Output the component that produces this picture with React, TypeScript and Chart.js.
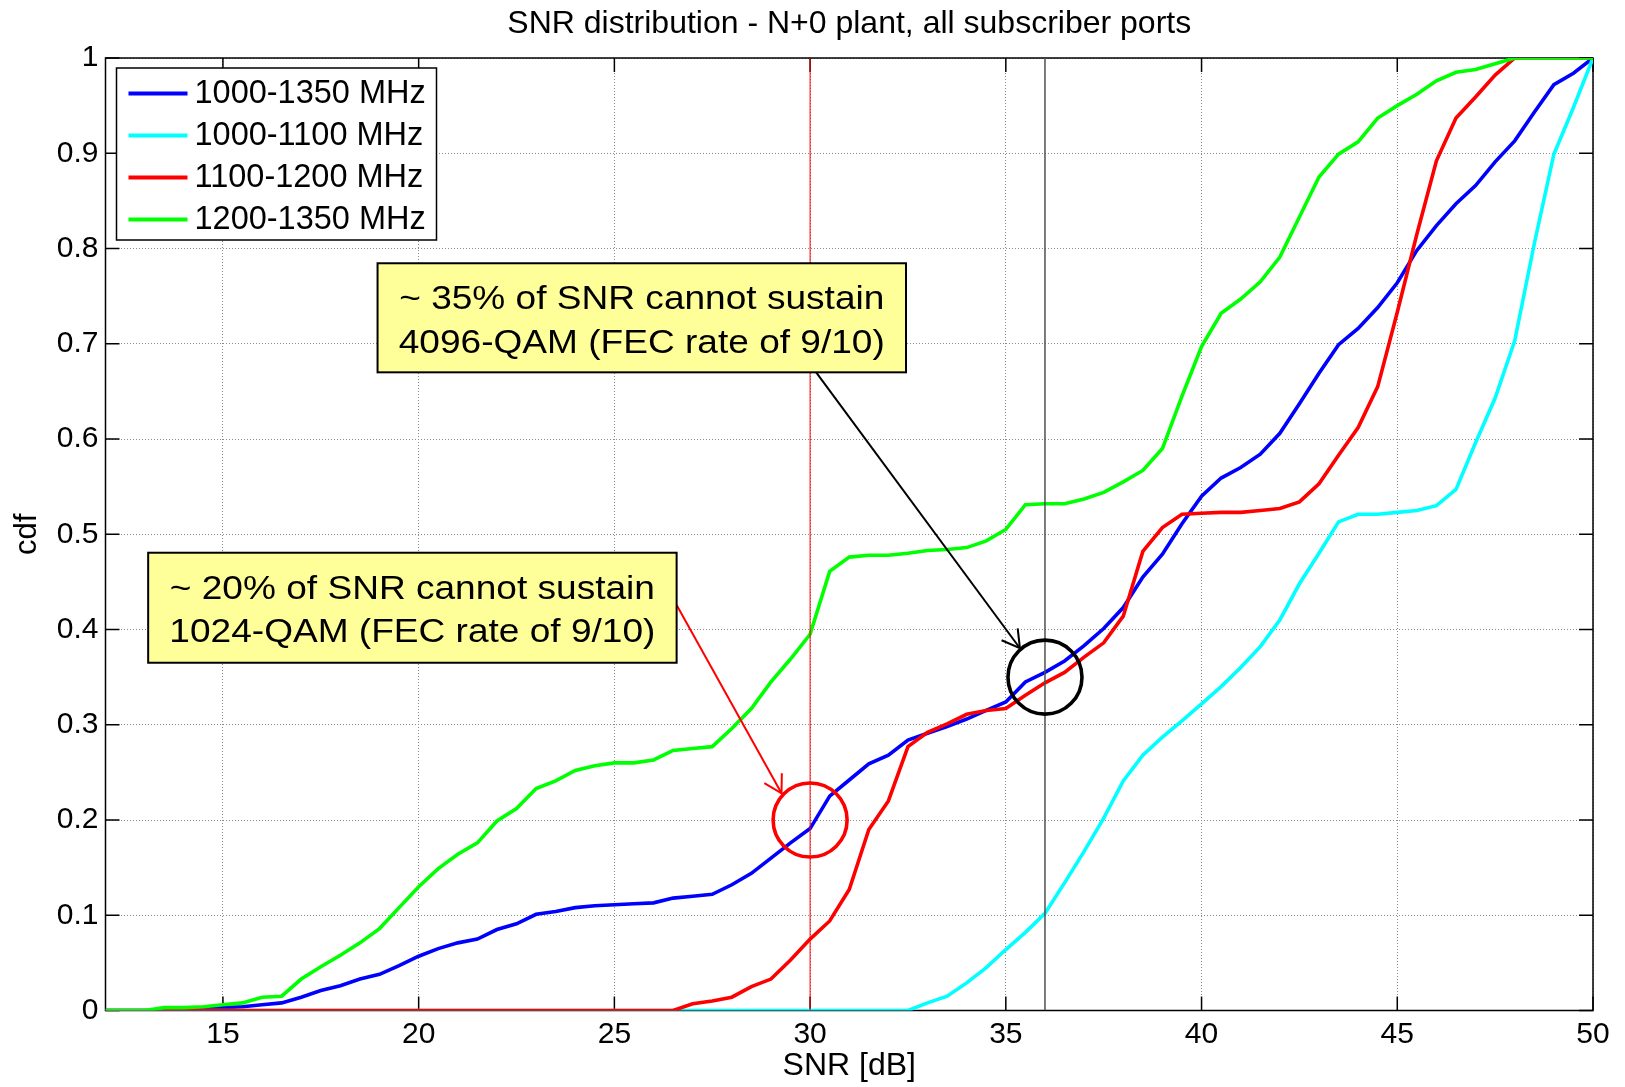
import React, { useEffect, useRef } from 'react';
import { Chart, registerables } from 'chart.js';

Chart.register(...registerables);

// ---------------- data ----------------
const snr = [
  12, 12.5, 13, 13.5, 14, 14.5, 15, 15.5, 16, 16.5, 17, 17.5, 18, 18.5, 19, 19.5,
  20, 20.5, 21, 21.5, 22, 22.5, 23, 23.5, 24, 24.5, 25, 25.5, 26, 26.5, 27, 27.5,
  28, 28.5, 29, 29.5, 30, 30.5, 31, 31.5, 32, 32.5, 33, 33.5, 34, 34.5, 35, 35.5,
  36, 36.5, 37, 37.5, 38, 38.5, 39, 39.5, 40, 40.5, 41, 41.5, 42, 42.5, 43, 43.5,
  44, 44.5, 45, 45.5, 46, 46.5, 47, 47.5, 48, 48.5, 49, 49.5, 50,
];

const cdf1000to1350 = [
  0, 0, 0, 0, 0.001, 0.002, 0.003, 0.004, 0.006, 0.008, 0.014, 0.021, 0.026, 0.033, 0.038, 0.047,
  0.057, 0.065, 0.071, 0.075, 0.085, 0.091, 0.101, 0.104, 0.108, 0.11, 0.111, 0.112, 0.113, 0.118, 0.12, 0.122,
  0.132, 0.144, 0.16, 0.176, 0.191, 0.225, 0.242, 0.259, 0.268, 0.284, 0.291, 0.298, 0.306, 0.315, 0.324, 0.345,
  0.355, 0.367, 0.383, 0.401, 0.423, 0.455, 0.479, 0.511, 0.54, 0.559, 0.57, 0.584, 0.606, 0.637, 0.669, 0.699,
  0.716, 0.738, 0.764, 0.798, 0.824, 0.847, 0.866, 0.891, 0.913, 0.943, 0.972, 0.984, 1,
];

const cdf1000to1100 = [
  0, 0, 0, 0, 0, 0, 0, 0, 0, 0, 0, 0, 0, 0, 0, 0,
  0, 0, 0, 0, 0, 0, 0, 0, 0, 0, 0, 0, 0, 0, 0, 0,
  0, 0, 0, 0, 0, 0, 0, 0, 0, 0, 0.008, 0.015, 0.029, 0.045, 0.064, 0.082,
  0.102, 0.134, 0.167, 0.202, 0.241, 0.268, 0.287, 0.304, 0.322, 0.34, 0.36, 0.382, 0.41, 0.448, 0.48, 0.513,
  0.521, 0.521, 0.523, 0.525, 0.53, 0.547, 0.596, 0.643, 0.703, 0.805, 0.899, 0.948, 1,
];

const cdf1100to1200 = [
  0, 0, 0, 0, 0, 0, 0, 0, 0, 0, 0, 0, 0, 0, 0, 0,
  0, 0, 0, 0, 0, 0, 0, 0, 0, 0, 0, 0, 0, 0, 0.007, 0.01,
  0.014, 0.025, 0.033, 0.053, 0.075, 0.094, 0.127, 0.19, 0.22, 0.277, 0.292, 0.301, 0.311, 0.315, 0.317, 0.331,
  0.344, 0.355, 0.371, 0.386, 0.414, 0.482, 0.507, 0.521, 0.522, 0.523, 0.523, 0.525, 0.527, 0.534, 0.553, 0.583,
  0.612, 0.655, 0.733, 0.815, 0.892, 0.937, 0.959, 0.982, 1, 1, 1, 1, 1,
];

const cdf1200to1350 = [
  0, 0, 0, 0.003, 0.003, 0.004, 0.006, 0.008, 0.014, 0.015, 0.033, 0.046, 0.058, 0.071, 0.086, 0.108,
  0.13, 0.149, 0.164, 0.176, 0.199, 0.212, 0.233, 0.241, 0.252, 0.257, 0.26, 0.26, 0.263, 0.273, 0.275, 0.277,
  0.296, 0.317, 0.345, 0.369, 0.395, 0.461, 0.476, 0.478, 0.478, 0.48, 0.483, 0.484, 0.486, 0.493, 0.505, 0.531,
  0.532, 0.532, 0.537, 0.544, 0.555, 0.567, 0.59, 0.645, 0.697, 0.732, 0.747, 0.765, 0.791, 0.833, 0.875, 0.899,
  0.912, 0.937, 0.95, 0.962, 0.976, 0.985, 0.988, 0.994, 1, 1, 1, 1, 1,
];

const seriesLabels = ['1000-1350 MHz', '1000-1100 MHz', '1100-1200 MHz', '1200-1350 MHz'];
const seriesColors = ['#0000ff', '#00ffff', '#ff0000', '#00ff00'];

const xTicks = [15, 20, 25, 30, 35, 40, 45, 50];
const xTickLabels = ['15', '20', '25', '30', '35', '40', '45', '50'];
const yTicks = [0, 0.1, 0.2, 0.3, 0.4, 0.5, 0.6, 0.7, 0.8, 0.9, 1];
const yTickLabels = ['0', '0.1', '0.2', '0.3', '0.4', '0.5', '0.6', '0.7', '0.8', '0.9', '1'];

// threshold lines (SNR in dB) and highlighted points (SNR, cdf)
const thresholdSnr = [30, 36];
const thresholdColors = ['#ff0000', '#505050'];
const circleSnr = [30, 36];
const circleCdf = [0.2, 0.35];
const circleColors = ['#ff0000', '#000000'];

// annotation boxes, in data coordinates
const noteTexts = [
  ['~ 35% of SNR cannot sustain', '4096-QAM (FEC rate of 9/10)'],
  ['~ 20% of SNR cannot sustain', '1024-QAM (FEC rate of 9/10)'],
];
const noteX0 = [18.95, 13.09];
const noteX1 = [32.45, 26.59];
const noteYTop = [0.7845, 0.4806];
const noteYBottom = [0.670, 0.3651];
// arrows: start/end in data coordinates
const arrowFromX = [30.15, 26.59];
const arrowFromY = [0.6703, 0.4257];
const arrowToX = [35.36, 29.27];
const arrowToY = [0.3803, 0.228];
const arrowColors = ['#000000', '#ff0000'];

const FONT = 'Liberation Sans, Arial, sans-serif';

function drawArrow(ctx: CanvasRenderingContext2D, x1: number, y1: number, x2: number, y2: number, color: string) {
  ctx.save();
  ctx.strokeStyle = color;
  ctx.lineWidth = 2;
  ctx.beginPath();
  ctx.moveTo(x1, y1);
  ctx.lineTo(x2, y2);
  ctx.stroke();
  const ang = Math.atan2(y2 - y1, x2 - x1);
  const L = 20;
  const a = Math.PI / 6;
  ctx.beginPath();
  ctx.moveTo(x2 - L * Math.cos(ang - a), y2 - L * Math.sin(ang - a));
  ctx.lineTo(x2, y2);
  ctx.lineTo(x2 - L * Math.cos(ang + a), y2 - L * Math.sin(ang + a));
  ctx.stroke();
  ctx.restore();
}

const decorPlugin = {
  id: 'matlabDecor',
  beforeDatasetsDraw(chart: any) {
    const ctx: CanvasRenderingContext2D = chart.ctx;
    const { left, right, top, bottom } = chart.chartArea;
    const xs = chart.scales.x;
    const ys = chart.scales.y;
    ctx.save();
    ctx.strokeStyle = '#000';
    ctx.lineWidth = 1.5;
    ctx.strokeRect(left, top, right - left, bottom - top);
    const T = 14;
    ctx.beginPath();
    xTicks.forEach((v) => {
      const px = xs.getPixelForValue(v);
      ctx.moveTo(px, bottom);
      ctx.lineTo(px, bottom - T);
      ctx.moveTo(px, top);
      ctx.lineTo(px, top + T);
    });
    yTicks.forEach((v) => {
      const py = ys.getPixelForValue(v);
      ctx.moveTo(left, py);
      ctx.lineTo(left + T, py);
      ctx.moveTo(right, py);
      ctx.lineTo(right - T, py);
    });
    ctx.stroke();
    ctx.restore();
  },
  afterDraw(chart: any) {
    const ctx: CanvasRenderingContext2D = chart.ctx;
    const xs = chart.scales.x;
    const ys = chart.scales.y;

    // legend (inside the axes, top-left)
    const { left, top } = chart.chartArea;
    const lx = left + 11;
    const ly = top + 10;
    const lw = 320;
    const lh = 172;
    ctx.save();
    ctx.fillStyle = '#fff';
    ctx.fillRect(lx, ly, lw, lh);
    ctx.strokeStyle = '#000';
    ctx.lineWidth = 1.5;
    ctx.strokeRect(lx, ly, lw, lh);
    ctx.font = `32.5px ${FONT}`;
    ctx.textAlign = 'left';
    ctx.textBaseline = 'middle';
    seriesLabels.forEach((label, i) => {
      const rowY = ly + 25.5 + i * 42;
      ctx.strokeStyle = seriesColors[i];
      ctx.lineWidth = 4;
      ctx.beginPath();
      ctx.moveTo(lx + 12, rowY);
      ctx.lineTo(lx + 71, rowY);
      ctx.stroke();
      ctx.fillStyle = '#000';
      ctx.fillText(label, lx + 78, rowY + 1);
    });
    ctx.restore();

    // arrows
    arrowFromX.forEach((_, i) => {
      drawArrow(
        ctx,
        xs.getPixelForValue(arrowFromX[i]),
        ys.getPixelForValue(arrowFromY[i]),
        xs.getPixelForValue(arrowToX[i]),
        ys.getPixelForValue(arrowToY[i]),
        arrowColors[i]
      );
    });

    // text boxes
    noteTexts.forEach((lines, i) => {
      const x0 = xs.getPixelForValue(noteX0[i]);
      const x1 = xs.getPixelForValue(noteX1[i]);
      const y0 = ys.getPixelForValue(noteYTop[i]);
      const y1 = ys.getPixelForValue(noteYBottom[i]);
      ctx.save();
      ctx.fillStyle = '#ffff99';
      ctx.fillRect(x0, y0, x1 - x0, y1 - y0);
      ctx.strokeStyle = '#000';
      ctx.lineWidth = 2;
      ctx.strokeRect(x0, y0, x1 - x0, y1 - y0);
      ctx.fillStyle = '#000';
      ctx.font = `34px ${FONT}`;
      ctx.textAlign = 'center';
      ctx.textBaseline = 'alphabetic';
      const cx = (x0 + x1) / 2;
      lines.forEach((t, j) => {
        ctx.save();
        ctx.translate(cx, y0 + 46 + j * 43.6);
        ctx.scale(1.09, 1);
        ctx.fillText(t, 0, 0);
        ctx.restore();
      });
      ctx.restore();
    });
  },
};

export default function App() {
  const canvasRef = useRef<HTMLCanvasElement | null>(null);

  useEffect(() => {
    const canvas = canvasRef.current;
    if (!canvas) return;
    Chart.defaults.font.family = FONT;
    Chart.defaults.color = '#000';

    const series = [cdf1000to1350, cdf1000to1100, cdf1100to1200, cdf1200to1350];
    const seriesOrder = [5, 4, 3, 2];
    const datasets: any[] = series.map((vals, i) => ({
      label: seriesLabels[i],
      data: snr.map((x, k) => ({ x, y: vals[k] })),
      borderColor: seriesColors[i],
      backgroundColor: seriesColors[i],
      borderWidth: 3.6,
      pointRadius: 0,
      tension: 0,
      fill: false,
      order: seriesOrder[i],
    }));
    thresholdSnr.forEach((s, i) => {
      datasets.push({
        label: 'threshold ' + s,
        data: [
          { x: s, y: yTicks[0] },
          { x: s, y: yTicks[yTicks.length - 1] },
        ],
        borderColor: thresholdColors[i],
        borderWidth: i === 0 ? 1 : 1.5,
        pointRadius: 0,
        fill: false,
        order: 1,
      });
    });
    circleSnr.forEach((s, i) => {
      datasets.push({
        label: 'mark ' + s,
        data: [{ x: s, y: circleCdf[i] }],
        showLine: false,
        pointRadius: 37,
        pointBorderWidth: 3.6,
        pointBorderColor: circleColors[i],
        pointBackgroundColor: 'rgba(0,0,0,0)',
        order: 0,
      });
    });

    const chart = new Chart(canvas, {
      type: 'line',
      data: { datasets },
      plugins: [decorPlugin],
      options: {
        animation: false,
        responsive: false,
        devicePixelRatio: 1,
        events: [],
        layout: { autoPadding: false, padding: { left: 0, right: 32, top: 0, bottom: 0 } },
        plugins: {
          legend: { display: false },
          tooltip: { enabled: false },
          title: {
            display: true,
            text: 'SNR distribution - N+0 plant, all subscriber ports',
            color: '#000',
            fullSize: false,
            font: { size: 32, weight: 'normal', lineHeight: 1.2, family: FONT },
            padding: { top: 4.6, bottom: 15 },
          },
        },
        scales: {
          x: {
            type: 'linear',
            min: 12,
            max: 50,
            afterBuildTicks: (scale: any) => {
              scale.ticks = xTicks.map((v) => ({ value: v }));
            },
            afterFit: (scale: any) => {
              scale.height = 76.5;
            },
            ticks: {
              autoSkip: false,
              maxRotation: 0,
              padding: 6,
              color: '#000',
              font: { size: 30, lineHeight: 1.2, family: FONT },
              callback: (_v: any, idx: number) => xTickLabels[idx],
            },
            grid: { color: '#8a8a8a', lineWidth: 1, drawTicks: false },
            border: { display: false, dash: [1, 2] },
            title: {
              display: true,
              text: 'SNR [dB]',
              color: '#000',
              font: { size: 32, lineHeight: 1.2, family: FONT },
              padding: { top: 0, bottom: 1.8 },
            },
          },
          y: {
            type: 'linear',
            min: 0,
            max: 1,
            afterBuildTicks: (scale: any) => {
              scale.ticks = yTicks.map((v) => ({ value: v }));
            },
            afterFit: (scale: any) => {
              scale.width = 105.5;
            },
            ticks: {
              padding: 7,
              color: '#000',
              font: { size: 30, lineHeight: 1.2, family: FONT },
              callback: (_v: any, idx: number) => yTickLabels[idx],
            },
            grid: { color: '#8a8a8a', lineWidth: 1, drawTicks: false },
            border: { display: false, dash: [1, 2] },
            title: {
              display: true,
              text: 'cdf',
              color: '#000',
              font: { size: 31, lineHeight: 1.2, family: FONT },
              padding: { top: 8.4, bottom: 0 },
            },
          },
        },
      } as any,
    });

    return () => {
      chart.destroy();
    };
  }, []);

  return (
    <div style={{ position: 'absolute', left: 0, top: 0, width: 1625, height: 1087, background: '#fff' }}>
      <canvas ref={canvasRef} width={1625} height={1087} style={{ width: 1625, height: 1087, display: 'block' }} />
    </div>
  );
}
